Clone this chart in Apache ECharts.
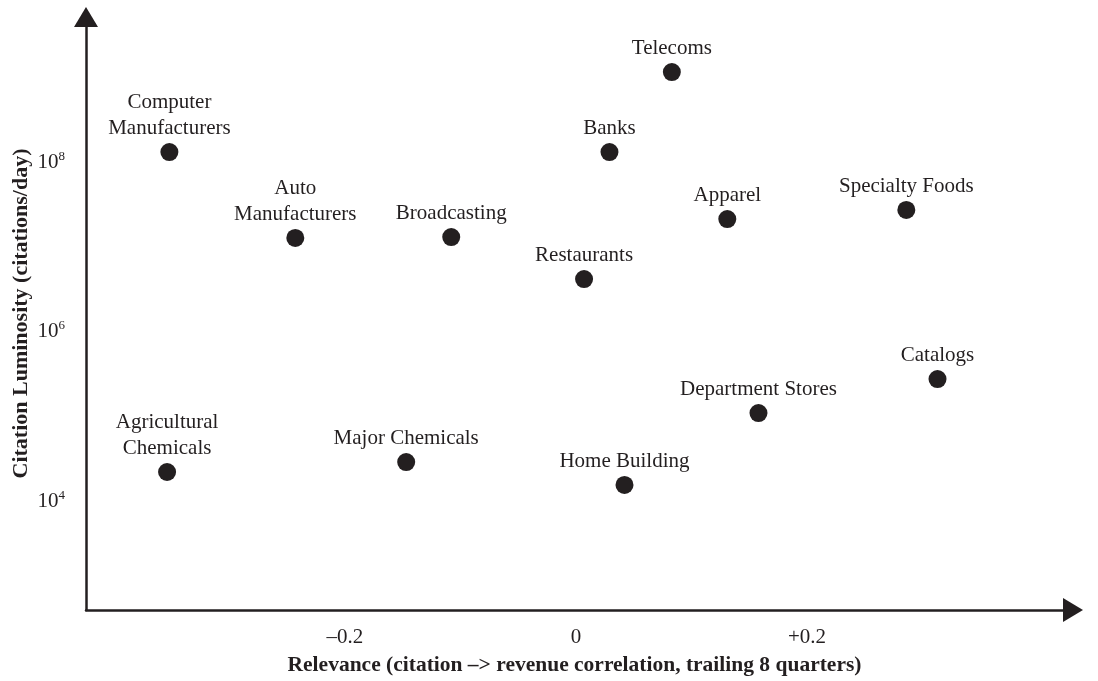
<!DOCTYPE html>
<html>
<head>
<meta charset="utf-8">
<script src="https://cdn.jsdelivr.net/npm/echarts@6/dist/echarts.min.js"></script>
<style>
  html, body { margin: 0; padding: 0; background: #ffffff; }
  #chart { width: 1098px; height: 681px; }
</style>
</head>
<body>
<div id="chart"></div>
<script>
// ---- Data ----
const industries = [
  'Computer\nManufacturers', 'Auto\nManufacturers', 'Broadcasting',
  'Agricultural\nChemicals', 'Major Chemicals', 'Telecoms', 'Banks',
  'Apparel', 'Restaurants', 'Specialty Foods', 'Catalogs',
  'Department Stores', 'Home Building'
];
const relevance = [
  -0.352, -0.243, -0.108,
  -0.354, -0.147, 0.083, 0.029,
  0.131, 0.007, 0.286, 0.313,
  0.158, 0.042
];
const luminosity = [
  1.31e8, 1.27e7, 1.30e7,
  2.20e4, 2.88e4, 1.15e9, 1.31e8,
  2.12e7, 4.16e6, 2.72e7, 2.75e5,
  1.09e5, 1.55e4
];
const xTickValues = [-0.2, 0, 0.2];
const xTickLabels = ['\u20130.2', '0', '+0.2'];
const yTickValues = [1e4, 1e6, 1e8];

const INK = '#231f20';
const FONT = '"Liberation Serif", "Times New Roman", "DejaVu Serif", serif';

const chart = echarts.init(document.getElementById('chart'));
chart.setOption({
  backgroundColor: '#ffffff',
  animation: false,
  textStyle: { fontFamily: FONT, color: INK },
  grid: { left: 86, right: 25, top: 17, bottom: 71, containLabel: false, outerBoundsMode: 'none' },
  xAxis: {
    type: 'value',
    min: -0.4242,
    max: 0.4303,
    name: 'Relevance (citation \u2013> revenue correlation, trailing 8 quarters)',
    nameLocation: 'middle',
    nameGap: 44,
    nameMoveOverlap: false,
    nameTextStyle: { fontFamily: FONT, fontWeight: 'bold', fontSize: 21.5, color: INK, padding: [0, 10, 0, 0] },
    axisLine: {
      show: true, onZero: false,
      symbol: ['none', 'triangle'], symbolSize: [24, 20],
      lineStyle: { color: INK, width: 2.5 }
    },
    axisTick: { show: false },
    splitLine: { show: false },
    axisLabel: {
      customValues: xTickValues,
      margin: 17,
      fontFamily: FONT, fontSize: 21, color: INK,
      formatter: function (v) {
        const i = xTickValues.findIndex(t => Math.abs(t - v) < 1e-9);
        return i >= 0 ? xTickLabels[i] : '';
      }
    }
  },
  yAxis: {
    type: 'log',
    logBase: 10,
    min: 518,
    max: 5.14e9,
    name: 'Citation Luminosity (citations/day)',
    nameLocation: 'middle',
    nameGap: 54,
    nameMoveOverlap: false,
    nameTextStyle: { fontFamily: FONT, fontWeight: 'bold', fontSize: 22, color: INK },
    axisLine: {
      show: true, onZero: false,
      symbol: ['none', 'triangle'], symbolSize: [24, 20],
      lineStyle: { color: INK, width: 2.5 }
    },
    axisTick: { show: false },
    splitLine: { show: false },
    axisLabel: {
      customValues: yTickValues,
      margin: 21,
      color: INK,
      formatter: function (v) {
        const e = Math.round(Math.log10(v));
        return '{b|10}{s|' + e + '}';
      },
      rich: {
        b: { fontFamily: FONT, fontSize: 21, lineHeight: 24, color: INK },
        s: { fontFamily: FONT, fontSize: 13, lineHeight: 13, verticalAlign: 'top', color: INK }
      }
    }
  },
  series: [{
    type: 'scatter',
    symbol: 'circle',
    symbolSize: 18,
    itemStyle: { color: INK, opacity: 1 },
    label: {
      show: true,
      position: 'top',
      distance: 1.5,
      formatter: '{b}',
      fontFamily: FONT,
      fontSize: 21,
      lineHeight: 26,
      color: INK,
      align: 'center'
    },
    emphasis: { disabled: true },
    data: industries.map((n, i) => ({ name: n, value: [relevance[i], luminosity[i]] }))
  }]
});
</script>
</body>
</html>
